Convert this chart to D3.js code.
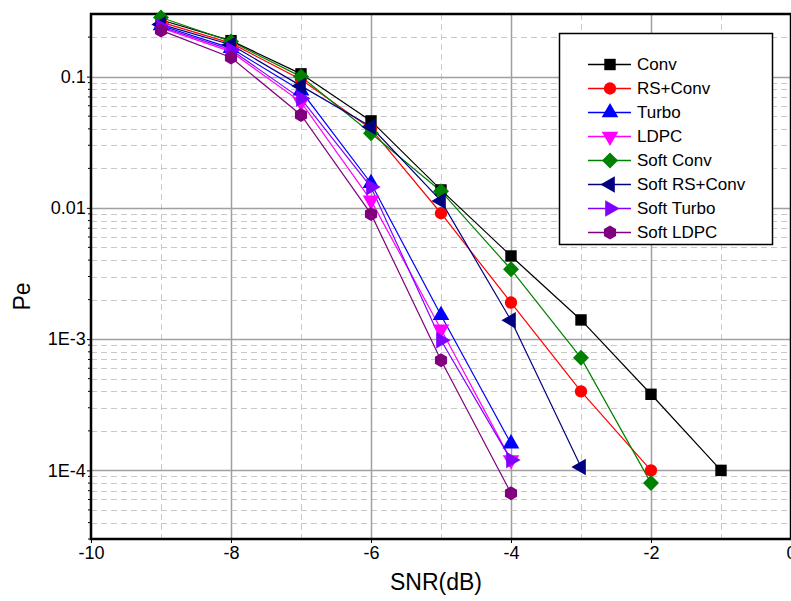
<!DOCTYPE html>
<html>
<head>
<meta charset="utf-8">
<script src="https://cdn.jsdelivr.net/npm/d3@7"></script>
<style>
  body { margin: 0; background: #fff; }
  svg { display: block; font-family: "Liberation Sans", Arial, sans-serif; }
</style>
</head>
<body>
<div id="chart"></div>
<script>
// x values (SNR in dB)
snr = [-9, -8, -7, -6, -5, -4, -3, -2, -1];

seriesNames = ["Conv", "RS+Conv", "Turbo", "LDPC", "Soft Conv", "Soft RS+Conv", "Soft Turbo", "Soft LDPC"];
seriesColors = ["#000000", "#ff0000", "#0000ff", "#ff00ff", "#008000", "#000080", "#8000ff", "#800080"];
seriesMarkers = ["square", "circle", "triangleUp", "triangleDown", "diamond", "triangleLeft", "triangleRight", "hexagon"];

conv        = [0.27, 0.188, 0.105, 0.046, 0.0137, 0.0043, 0.0014, 0.00038, 0.0001];
rsConv      = [0.26, 0.18, 0.095, 0.040, 0.0091, 0.0019, 0.0004, 0.0001];
turbo       = [0.245, 0.165, 0.078, 0.0154, 0.00152, 0.00016];
ldpc        = [0.235, 0.155, 0.064, 0.0114, 0.00119, 0.00012];
softConv    = [0.282, 0.185, 0.10, 0.037, 0.0134, 0.0034, 0.00072, 0.00008];
softRsConv  = [0.25, 0.175, 0.085, 0.0415, 0.0113, 0.00139, 0.000106];
softTurbo   = [0.24, 0.16, 0.068, 0.0144, 0.00098, 0.00012];
softLdpc    = [0.225, 0.14, 0.051, 0.009, 0.00069, 0.000067];

allSeries = [conv, rsConv, turbo, ldpc, softConv, softRsConv, softTurbo, softLdpc];

xTicks = [-10, -8, -6, -4, -2, 0];
yTicks = [0.1, 0.01, 0.001, 0.0001];
yTickLabels = ["0.1", "0.01", "1E-3", "1E-4"];

window.addEventListener('load', function() {
    let svg = d3.select('#chart')
        .append('svg')
        .attr('width', 791)
        .attr('height', 601);

    let left = 91, right = 791, top = 14, bottom = 539;

    let x = d3.scaleLinear().domain([-10, 0]).range([left, right]);
    let y = d3.scaleLog().domain([3e-5, 0.3]).range([bottom, top]);

    // minor grid
    let minorY = [];
    [1e-5, 1e-4, 1e-3, 1e-2, 1e-1].forEach(function(d) {
        for (let k = 2; k <= 9; k++) {
            let v = d * k;
            if (v > 3e-5 && v < 0.3) minorY.push(v);
        }
    });
    let minorX = [-9, -7, -5, -3, -1];

    let grid = svg.append('g');
    grid.selectAll('.minor-y').data(minorY).enter().append('line')
        .attr('x1', left).attr('x2', right)
        .attr('y1', d => Math.round(y(d)) + 0.5).attr('y2', d => Math.round(y(d)) + 0.5)
        .attr('stroke', '#c8c8c8').attr('stroke-width', 1).attr('stroke-dasharray', '6,4');
    grid.selectAll('.minor-x').data(minorX).enter().append('line')
        .attr('y1', top).attr('y2', bottom)
        .attr('x1', d => Math.round(x(d)) + 0.5).attr('x2', d => Math.round(x(d)) + 0.5)
        .attr('stroke', '#c8c8c8').attr('stroke-width', 1).attr('stroke-dasharray', '6,4');
    grid.selectAll('.major-y').data(yTicks).enter().append('line')
        .attr('x1', left).attr('x2', right)
        .attr('y1', d => Math.round(y(d)) + 0.5).attr('y2', d => Math.round(y(d)) + 0.5)
        .attr('stroke', '#a0a0a0').attr('stroke-width', 1.5);
    grid.selectAll('.major-x').data(xTicks.slice(1, -1)).enter().append('line')
        .attr('y1', top).attr('y2', bottom)
        .attr('x1', d => Math.round(x(d)) + 0.5).attr('x2', d => Math.round(x(d)) + 0.5)
        .attr('stroke', '#a0a0a0').attr('stroke-width', 1.5);

    // axes (plain hyphen for negatives, like the original)
    let xAxis = d3.axisBottom(x).tickValues(xTicks).tickSize(4).tickFormat(d => String(d));
    let yAxis = d3.axisLeft(y).tickValues(yTicks).tickSize(4).tickFormat((d, i) => yTickLabels[i]);

    let gx = svg.append('g').attr('transform', `translate(0,${bottom})`).call(xAxis);
    gx.select('.domain').remove();
    gx.selectAll('text').attr('font-size', 18).attr('fill', '#000').attr('font-family', '"Liberation Sans", Arial, sans-serif').attr('dy', '0.7em');

    let gy = svg.append('g').attr('transform', `translate(${left},0)`).call(yAxis);
    gy.select('.domain').remove();
    gy.selectAll('text').attr('font-size', 18).attr('fill', '#000').attr('font-family', '"Liberation Sans", Arial, sans-serif').attr('dx', '0.1em');

    // small minor ticks on the left axis
    svg.append('g').selectAll('line').data(minorY).enter().append('line')
        .attr('x1', left - 3).attr('x2', left)
        .attr('y1', d => y(d)).attr('y2', d => y(d))
        .attr('stroke', '#000').attr('stroke-width', 1);

    // border
    svg.append('rect')
        .attr('x', left).attr('y', top)
        .attr('width', right - left).attr('height', bottom - top)
        .attr('fill', 'none').attr('stroke', '#000').attr('stroke-width', 2.5);

    // axis titles
    svg.append('text')
        .attr('x', (left + right) / 2 - 5).attr('y', 590)
        .attr('text-anchor', 'middle').attr('font-size', 23)
        .text('SNR(dB)');
    svg.append('text')
        .attr('transform', `translate(30,${(top + bottom) / 2 + 20}) rotate(-90)`)
        .attr('text-anchor', 'middle').attr('font-size', 23)
        .text('Pe');

    // markers
    function markerPath(type) {
        if (type === 'square') return d3.symbol(d3.symbolSquare, 130)();
        if (type === 'circle') return d3.symbol(d3.symbolCircle, 120)();
        if (type === 'diamond') {
            return 'M0,-8L8,0L0,8L-8,0Z';
        }
        if (type === 'hexagon') {
            let pts = d3.range(6).map(i => {
                let a = Math.PI / 6 + i * Math.PI / 3;
                return [7 * Math.cos(a), 7 * Math.sin(a)];
            });
            return d3.line()(pts) + 'Z';
        }
        return d3.symbol(d3.symbolTriangle, 120)();
    }
    function markerRotate(type) {
        if (type === 'triangleDown') return 180;
        if (type === 'triangleLeft') return -90;
        if (type === 'triangleRight') return 90;
        return 0;
    }

    let line = d3.line()
        .x((d, i) => x(snr[i]))
        .y(d => y(d));

    let plot = svg.append('g');
    allSeries.forEach(function(values, s) {
        plot.append('path')
            .attr('d', line(values))
            .attr('fill', 'none')
            .attr('stroke', seriesColors[s])
            .attr('stroke-width', 1.2);
    });
    allSeries.forEach(function(values, s) {
        plot.selectAll('.m' + s).data(values).enter().append('path')
            .attr('d', markerPath(seriesMarkers[s]))
            .attr('transform', (d, i) => `translate(${x(snr[i])},${y(d)}) rotate(${markerRotate(seriesMarkers[s])})`)
            .attr('fill', seriesColors[s]);
    });

    // legend
    let lg = svg.append('g');
    lg.append('rect')
        .attr('x', 559.5).attr('y', 33.5)
        .attr('width', 213).attr('height', 211)
        .attr('fill', '#fff').attr('stroke', '#000').attr('stroke-width', 1.5);
    seriesNames.forEach(function(name, s) {
        let ly = 64.5 + s * 24;
        lg.append('line')
            .attr('x1', 588).attr('x2', 631)
            .attr('y1', ly).attr('y2', ly)
            .attr('stroke', seriesColors[s]).attr('stroke-width', 1.5);
        lg.append('path')
            .attr('d', markerPath(seriesMarkers[s]))
            .attr('transform', `translate(610,${ly}) rotate(${markerRotate(seriesMarkers[s])})`)
            .attr('fill', seriesColors[s]);
        lg.append('text')
            .attr('x', 637).attr('y', ly).attr('dy', '0.35em')
            .attr('font-size', 17)
            .text(name);
    });
});
</script>
</body>
</html>
